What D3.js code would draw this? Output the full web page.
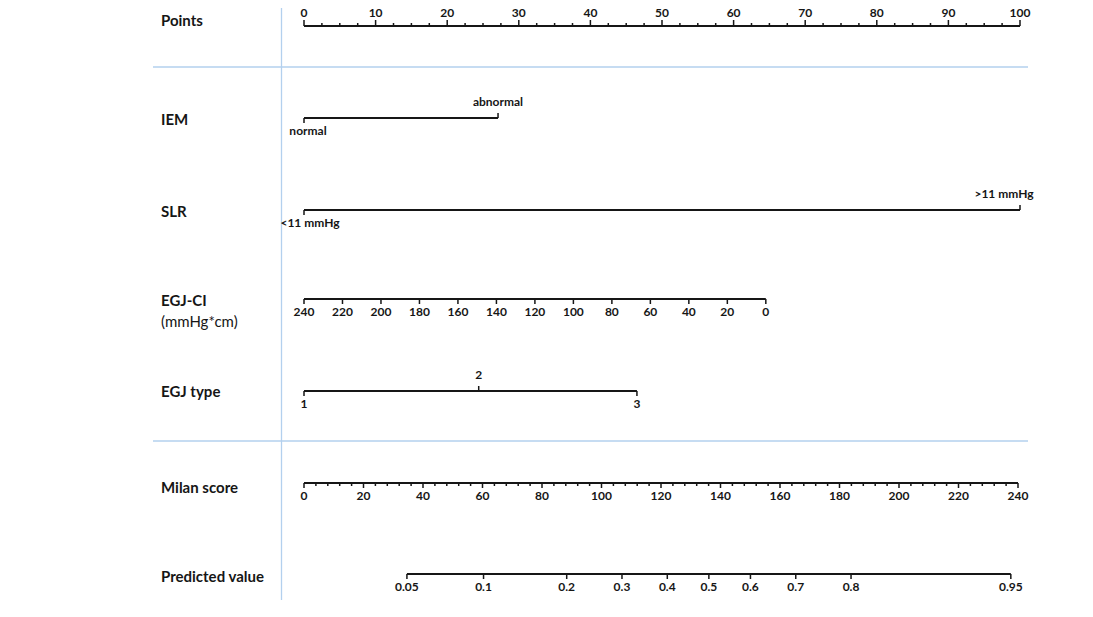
<!DOCTYPE html>
<html>
<head>
<meta charset="utf-8">
<script src="https://cdn.jsdelivr.net/npm/d3@7"></script>
<style>
  html, body { margin: 0; padding: 0; background: #fff; }
  svg { display: block; font-family: Lato, "Open Sans", sans-serif; }
</style>
</head>
<body>
<svg id="chart" width="1093" height="617"></svg>
<script>
// ---------- data ----------
const rowLabels = ["Points", "IEM", "SLR", "EGJ-CI", "EGJ type", "Milan score", "Predicted value"];
const pointsTicks = [0, 10, 20, 30, 40, 50, 60, 70, 80, 90, 100];
const pointsMinorStep = 2.5;

const iemLevels = ["normal", "abnormal"];
const iemPoints = [0, 27.1];

const slrLevels = ["<11 mmHg", ">11 mmHg"];
const slrPoints = [0, 100];

const egjciValues = [240, 220, 200, 180, 160, 140, 120, 100, 80, 60, 40, 20, 0];
const egjciRange = [240, 0];
const egjciPointRange = [0, 64.5];

const egjTypeLevels = ["1", "2", "3"];
const egjTypePoints = [0, 24.4, 46.5];

const milanTicks = [0, 20, 40, 60, 80, 100, 120, 140, 160, 180, 200, 220, 240];
const milanMinorStep = 4;

const predictedTicks = [0.05, 0.1, 0.2, 0.3, 0.4, 0.5, 0.6, 0.7, 0.8, 0.95];
const lpIntercept = -3.948;
const lpSlope = 0.02901;

// ---------- layout ----------
const svg = d3.select("#chart");
const ink = "#161616";
const sepColor = "#b3d0ee";
const xPoints = d3.scaleLinear().domain([0, 100]).range([304, 1020]);
const xTotal = d3.scaleLinear().domain([0, 240]).range([304, 1018]);
const rowY = { "Points": 26, "IEM": 118, "SLR": 210, "EGJ-CI": 299, "EGJ type": 391, "Milan score": 483, "Predicted value": 574 };
const labelY = { "Points": 22, "IEM": 121, "SLR": 213, "EGJ-CI": 302, "EGJ type": 393, "Milan score": 489, "Predicted value": 578 };
const labelDx = { "normal": 4, "abnormal": 0, "<11 mmHg": 6, ">11 mmHg": -16 };

// separators
svg.append("line").attr("x1", 281.5).attr("x2", 281.5).attr("y1", 8).attr("y2", 600)
  .attr("stroke", sepColor).attr("stroke-width", 1.3);
[67, 441].forEach(y => {
  svg.append("line").attr("x1", 153).attr("x2", 1028).attr("y1", y).attr("y2", y)
    .attr("stroke", sepColor).attr("stroke-width", 1.3);
});

// row labels
rowLabels.forEach(l => {
  svg.append("text").attr("x", 161).attr("y", labelY[l]).attr("dominant-baseline", "middle")
    .attr("font-size", 15).attr("font-weight", "bold").attr("fill", ink).text(l);
});
svg.append("text").attr("x", 161).attr("y", 323).attr("dominant-baseline", "middle")
  .attr("font-size", 15).attr("fill", ink).text("(mmHg*cm)");

function baseLine(y, x1, x2) {
  svg.append("line").attr("x1", x1).attr("x2", x2).attr("y1", y).attr("y2", y)
    .attr("stroke", ink).attr("stroke-width", 2);
}
function tick(x, y, len) {
  svg.append("line").attr("x1", x).attr("x2", x).attr("y1", y).attr("y2", y + len)
    .attr("stroke", ink).attr("stroke-width", 1.5);
}
function label(x, y, t, dx) {
  svg.append("text").attr("x", x + (dx || 0)).attr("y", y).attr("text-anchor", "middle")
    .attr("dominant-baseline", "middle").attr("font-size", 12)
    .attr("font-weight", "bold").attr("fill", ink).text(t);
}

// Points axis (ticks up, labels above)
{
  const y = rowY["Points"];
  baseLine(y, xPoints(0), xPoints(100));
  d3.range(0, 100 + 1e-9, pointsMinorStep).forEach(v => {
    const major = pointsTicks.includes(v);
    tick(xPoints(v), y, major ? -6 : -3);
  });
  pointsTicks.forEach(v => label(xPoints(v), y - 12, v));
}

// categorical rows with alternating labels
function catRow(name, levels, pts, firstBelow) {
  const y = rowY[name];
  baseLine(y, xPoints(d3.min(pts)), xPoints(d3.max(pts)));
  levels.forEach((lv, i) => {
    const below = (i % 2 === 0) === firstBelow;
    const x = xPoints(pts[i]);
    tick(x, y, below ? 5 : -5);
    label(x, below ? y + 14 : y - 15, lv, labelDx[lv]);
  });
}
catRow("IEM", iemLevels, iemPoints, true);
catRow("SLR", slrLevels, slrPoints, true);
catRow("EGJ type", egjTypeLevels, egjTypePoints, true);

// EGJ-CI (continuous, reversed)
{
  const y = rowY["EGJ-CI"];
  const s = d3.scaleLinear().domain(egjciRange).range(egjciPointRange.map(xPoints));
  baseLine(y, s(egjciRange[0]), s(egjciRange[1]));
  egjciValues.forEach(v => { tick(s(v), y, 5); label(s(v), y + 14, v); });
}

// Milan score (total points)
{
  const y = rowY["Milan score"];
  baseLine(y, xTotal(0), xTotal(240));
  d3.range(0, 240 + 1e-9, milanMinorStep).forEach(v => {
    const major = milanTicks.includes(v);
    tick(xTotal(v), y, major ? 5 : 3);
  });
  milanTicks.forEach(v => label(xTotal(v), y + 14, v));
}

// Predicted value
{
  const y = rowY["Predicted value"];
  const logit = p => Math.log(p / (1 - p));
  const xp = p => xTotal((logit(p) - lpIntercept) / lpSlope);
  baseLine(y, xp(predictedTicks[0]), xp(predictedTicks[predictedTicks.length - 1]));
  predictedTicks.forEach(p => { tick(xp(p), y, 5); label(xp(p), y + 14, p); });
}
</script>
</body>
</html>
